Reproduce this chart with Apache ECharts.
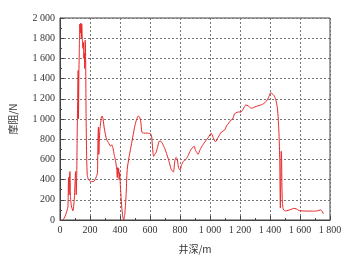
<!DOCTYPE html>
<html>
<head>
<meta charset="utf-8">
<script src="https://cdn.jsdelivr.net/npm/echarts@6/dist/echarts.min.js"></script>
<style>
  html, body { margin: 0; padding: 0; background: #fff; }
  #chart { width: 353px; height: 260px; }
</style>
</head>
<body>
<div id="chart"></div>
<script>
// well depth (m) and drag force (N)
var depth = [
  20, 35, 48, 53, 57, 61, 64, 67, 70, 76, 86, 95, 101, 104, 108, 112, 115, 118, 121, 123,
  126, 129, 132, 136, 139, 142, 145, 149, 153, 156, 159, 162, 165, 168, 171, 174, 178, 182, 190, 207,
  228, 245, 250, 253, 256, 259, 262, 266, 270, 276, 281, 287, 296, 310, 325, 338, 345, 352, 362, 370,
  378, 382, 385, 388, 391, 394, 398, 402, 406, 412, 418, 425, 432, 440, 448, 460, 470, 485, 500, 512,
  522, 530, 538, 546, 560, 580, 602, 610, 618, 624, 632, 640, 652, 662, 672, 682, 695, 710, 725, 742,
  756, 766, 774, 782, 790, 800, 810, 822, 840, 855, 870, 885, 895, 903, 912, 920, 935, 950, 970, 990,
  1008, 1020, 1037, 1055, 1075, 1097, 1110, 1125, 1140, 1151, 1163, 1173, 1190, 1206, 1222, 1239, 1255, 1270, 1283, 1300,
  1320, 1349, 1365, 1382, 1395, 1404, 1415, 1425, 1433, 1442, 1450, 1455, 1460, 1465, 1467, 1469, 1472, 1475, 1477, 1480,
  1484, 1490, 1503, 1520, 1540, 1558, 1575, 1591, 1620, 1660, 1690, 1715, 1738, 1748, 1756
];
var drag = [
  0, 40, 100, 130, 420, 250, 460, 480, 220, 140, 90, 200, 400, 480, 250, 500, 900, 1200, 1480, 1000,
  1450, 1700, 1940, 1850, 1950, 1800, 1940, 1780, 1700, 1760, 1600, 1650, 1500, 1780, 1600, 1000, 600, 440, 400, 380,
  385, 440, 470, 800, 920, 650, 780, 900, 950, 1020, 1030, 1000, 900, 800, 760, 730, 745, 720, 640, 590,
  500, 420, 520, 460, 510, 400, 470, 350, 250, 120, 40, 0, 60, 230, 500, 620, 700, 820, 940, 1000,
  1030, 1020, 980, 870, 860, 860, 855, 840, 700, 630, 650, 665, 730, 780, 780, 760, 720, 660, 590, 500,
  475, 590, 620, 600, 520, 495, 540, 580, 600, 640, 690, 720, 730, 690, 670, 650, 700, 740, 780, 820,
  860, 820, 775, 820, 870, 890, 930, 960, 990, 1000, 1050, 1060, 1070, 1068, 1100, 1140, 1130, 1110, 1108, 1120,
  1130, 1145, 1160, 1190, 1230, 1260, 1250, 1235, 1215, 1170, 1100, 1000, 850, 600, 300, 120, 400, 680, 640, 300,
  150, 100, 90, 95, 105, 115, 110, 95, 90, 88, 88, 90, 100, 85, 60
];

var xMin = 0, xMax = 1800, xStep = 200;
var yMin = 0, yMax = 2000, yStep = 200;

function spaced(v) {
  return String(v).replace(/\B(?=(\d{3})+(?!\d))/g, ' ');
}

var points = [];
for (var i = 0; i < depth.length; i++) {
  points.push([depth[i], drag[i]]);
}

var myChart = echarts.init(document.getElementById('chart'));
var font = 'Liberation Serif, "Noto Sans CJK SC", serif';
var cjk = '"Noto Sans CJK SC", sans-serif';

var option = {
  animation: false,
  grid: {
    left: 57, right: 23, top: 18, bottom: 40,
    show: true, borderColor: '#444', borderWidth: 1
  },
  xAxis: {
    type: 'value',
    min: xMin, max: xMax, interval: xStep,
    name: '井深/m',
    nameLocation: 'middle',
    nameGap: 24,
    nameTextStyle: { fontFamily: cjk, fontSize: 10, color: '#333' },
    axisLine: { lineStyle: { color: '#444' } },
    axisTick: { inside: true, length: 4, lineStyle: { color: '#444' } },
    minorTick: { show: true, splitNumber: 2, length: 2, lineStyle: { color: '#444' } },
    axisLabel: { formatter: spaced, fontFamily: font, fontSize: 10, color: '#333', margin: 5 },
    splitLine: { show: true, lineStyle: { color: '#777', type: [2, 2], width: 1 } }
  },
  yAxis: {
    type: 'value',
    min: yMin, max: yMax, interval: yStep,
    name: '摩阻/N',
    nameLocation: 'middle',
    nameRotate: 90,
    nameGap: 42,
    nameTextStyle: { fontFamily: cjk, fontSize: 10, color: '#333' },
    axisLine: { show: true, lineStyle: { color: '#444' } },
    axisTick: { show: true, inside: true, length: 4, lineStyle: { color: '#444' } },
    minorTick: { show: true, splitNumber: 2, length: 2, lineStyle: { color: '#444' } },
    axisLabel: { formatter: spaced, fontFamily: font, fontSize: 10, color: '#333', margin: 5 },
    splitLine: { show: true, lineStyle: { color: '#777', type: [2, 2], width: 1 } }
  },
  series: [
    {
      type: 'line',
      data: points,
      showSymbol: false,
      smooth: 0.2,
      lineStyle: { color: '#e8262a', width: 1 }
    }
  ]
};

option && myChart.setOption(option);
</script>
</body>
</html>
